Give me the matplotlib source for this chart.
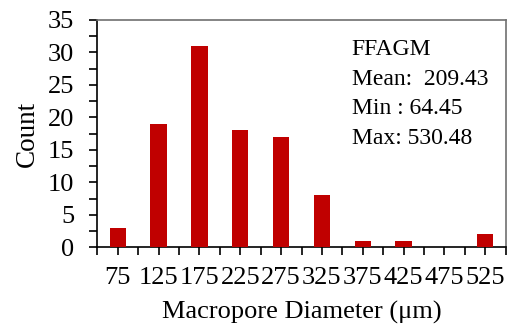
import numpy as np
import matplotlib.pyplot as plt
from matplotlib.ticker import MultipleLocator

# Распределение диаметров макропор
bin_centers = [75, 125, 175, 225, 275, 325, 375, 425, 475, 525]
counts = [3, 19, 31, 18, 17, 8, 1, 1, 0, 2]
sample_name = "FFAGM"
stats_lines = ["Mean:  209.43", "Min : 64.45", "Max: 530.48"]

plt.rcParams['font.family'] = ['Liberation Serif', 'DejaVu Serif']

fig = plt.figure(figsize=(5.19, 3.32), dpi=100)
ax = fig.add_axes([0.1875, 0.2551, 0.7869, 0.6847])

ax.bar(bin_centers, counts, width=20, color='#C00000', zorder=3)

ax.set_xlim(50, 550)
ax.set_ylim(0, 35)
ax.set_xticks(bin_centers)
ax.set_xticklabels([str(c) for c in bin_centers])
ax.xaxis.set_minor_locator(MultipleLocator(50))
ax.yaxis.set_major_locator(MultipleLocator(5))
ax.yaxis.set_minor_locator(MultipleLocator(2.5))

ax.tick_params(axis='both', which='both', direction='out', length=5.5, width=1.2,
               labelsize=19, color='black')
ax.tick_params(axis='x', which='major', pad=9)
ax.tick_params(axis='y', which='major', pad=11)

for side in ['left', 'bottom']:
    ax.spines[side].set_color('black')
    ax.spines[side].set_linewidth(1.2)
for side in ['top', 'right']:
    ax.spines[side].set_color('#707070')
    ax.spines[side].set_linewidth(1.2)

ax.set_xlabel('Macropore Diameter (μm)', fontsize=19, labelpad=8)
ax.set_ylabel('Count', fontsize=19.5, labelpad=6)

# Подпись со статистикой образца
ax.text(0.623, 0.915, sample_name + "\n" + "\n".join(stats_lines),
        transform=ax.transAxes, fontsize=17, va='top', ha='left',
        linespacing=1.53)

fig.savefig('out.png', dpi=100)
